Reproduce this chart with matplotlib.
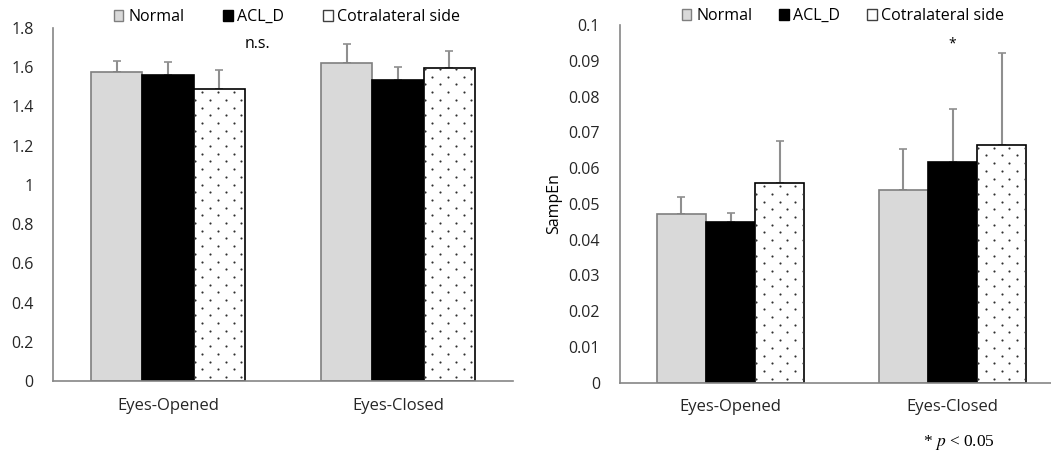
import numpy as np
import matplotlib
matplotlib.use("Agg")
import matplotlib.pyplot as plt
from matplotlib.patches import Patch

plt.rcParams['font.family'] = ['Open Sans', 'DejaVu Sans']

# ---------------- data ----------------
conditions = ["Eyes-Opened", "Eyes-Closed"]
groups = ["Normal", "ACL_D", "Cotralateral side"]

left_means = {"Normal": [1.575, 1.620], "ACL_D": [1.558, 1.533], "Cotralateral side": [1.487, 1.596]}
left_sd = {"Normal": [0.057, 0.097], "ACL_D": [0.068, 0.068], "Cotralateral side": [0.098, 0.087]}
left_ticks = [0, 0.2, 0.4, 0.6, 0.8, 1, 1.2, 1.4, 1.6, 1.8]
left_tick_labels = ["0", "0.2", "0.4", "0.6", "0.8", "1", "1.2", "1.4", "1.6", "1.8"]

right_means = {"Normal": [0.0471, 0.0538], "ACL_D": [0.0450, 0.0616], "Cotralateral side": [0.0557, 0.0664]}
right_sd = {"Normal": [0.0049, 0.0114], "ACL_D": [0.0025, 0.0149], "Cotralateral side": [0.0119, 0.0258]}
right_ticks = [0, 0.01, 0.02, 0.03, 0.04, 0.05, 0.06, 0.07, 0.08, 0.09, 0.1]
right_tick_labels = ["0", "0.01", "0.02", "0.03", "0.04", "0.05", "0.06", "0.07", "0.08", "0.09", "0.1"]

# ---------------- style ----------------
styles = {
    "Normal": dict(color="#d9d9d9", edgecolor="#7f7f7f"),
    "ACL_D": dict(color="#000000", edgecolor="#000000"),
    "Cotralateral side": dict(color="#ffffff", edgecolor="#000000"),
}
ERR_COLOR = "#8f8f8f"
SPINE_COLOR = "#868686"
FS = 11.5
BW = 0.222

fig = plt.figure(figsize=(10.51, 4.57), dpi=100)
axL = fig.add_axes([53 / 1051, 76 / 457, 460 / 1051, 353 / 457])
axR = fig.add_axes([619.5 / 1051, 74.3 / 457, 444 / 1051, 357.7 / 457])


def add_dots(ax, bar):
    # dotted texture clipped to the bar (pixel spacing like the reference)
    x0, y0 = ax.transData.transform((bar.get_x(), bar.get_y()))
    x1, y1 = ax.transData.transform((bar.get_x() + bar.get_width(), bar.get_y() + bar.get_height()))
    dx, dy = 7.8, 7.7
    xs, ys = [], []
    row = 0
    y = y0 + 4
    while y < y1:
        start = x0 + 1 if row % 2 == 0 else x0 + 1 + dx
        xv = np.arange(start, x1, 2 * dx)
        xs.extend(xv)
        ys.extend([y] * len(xv))
        y += dy
        row += 1
    pts = ax.transData.inverted().transform(np.column_stack([xs, ys]))
    sc = ax.scatter(pts[:, 0], pts[:, 1], s=2.4, c="#303030", marker="o", linewidths=0, zorder=3)
    sc.set_clip_path(bar)


def draw_panel(ax, means, sds, ylim, ticks, tick_labels):
    x = np.arange(len(conditions))
    ax.set_xlim(-0.5, 1.5)
    ax.set_ylim(*ylim)
    for i, g in enumerate(groups):
        pos = x + (i - 1) * BW
        m = np.array(means[g])
        e = np.array(sds[g])
        bars = ax.bar(pos, m, width=BW, linewidth=1.2, zorder=2, **styles[g])
        ax.errorbar(pos, m, yerr=[np.zeros_like(e), e], fmt="none", ecolor=ERR_COLOR,
                    elinewidth=1.5, capsize=3, capthick=1.2, zorder=1)
        if g == "Cotralateral side":
            for b in bars:
                add_dots(ax, b)
    ax.set_yticks(ticks)
    ax.set_yticklabels(tick_labels, fontsize=FS, color="#262626")
    ax.set_xticks(x)
    ax.set_xticklabels(conditions, fontsize=12, color="#262626")
    ax.tick_params(axis="y", length=0, pad=14)
    ax.tick_params(axis="x", length=0, pad=12)
    for s in ["top", "right"]:
        ax.spines[s].set_visible(False)
    for s in ["left", "bottom"]:
        ax.spines[s].set_color(SPINE_COLOR)
        ax.spines[s].set_linewidth(1.2)


draw_panel(axL, left_means, left_sd, (0, 1.8), left_ticks, left_tick_labels)
draw_panel(axR, right_means, right_sd, (0, 0.1), right_ticks, right_tick_labels)


def legend_handles():
    return [
        Patch(facecolor="#d9d9d9", edgecolor="#7f7f7f", linewidth=1),
        Patch(facecolor="#000000", edgecolor="#000000", linewidth=1),
        Patch(facecolor="#ffffff", edgecolor="#404040", linewidth=1),
    ]


axL.legend(legend_handles(), groups, loc="center", bbox_to_anchor=((287 - 53) / 460, 1 + (28 - 17) / 353),
           ncol=3, frameon=False, fontsize=FS, handlelength=0.62, handleheight=0.62,
           handletextpad=0.3, columnspacing=2.4, borderaxespad=0, borderpad=0)
axR.legend(legend_handles(), groups, loc="center", bbox_to_anchor=((843 - 619.5) / 444, 1 + (25 - 16) / 357.7),
           ncol=3, frameon=False, fontsize=FS, handlelength=0.62, handleheight=0.62,
           handletextpad=0.3, columnspacing=1.65, borderaxespad=0, borderpad=0)

# annotations
axL.text(0.39, 1.72, "n.s.", ha="center", va="center", fontsize=FS, color="#000000", weight="medium")
axR.text(1, 0.0948, "*", ha="center", va="center", fontsize=10, color="#000000")

axR.set_ylabel("SampEn", fontsize=FS)
axR.yaxis.set_label_coords((562 - 619.5) / 444, 0.5)

fig.text(959 / 1051, 1 - 443 / 457, "* $p$ < 0.05", ha="center", va="center", fontsize=12.5,
         family="Liberation Serif", math_fontfamily="stix")

fig.savefig("out.png", dpi=100)
